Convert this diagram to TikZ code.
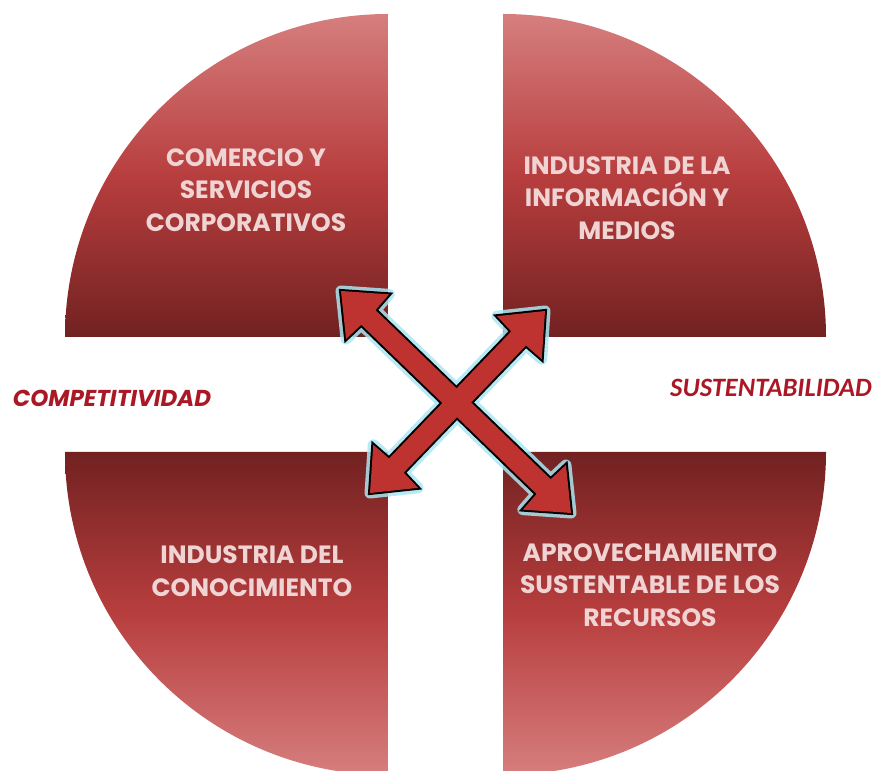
\documentclass[tikz,border=0pt]{standalone}
\usepackage{fontspec}
\usetikzlibrary{calc}
\newfontfamily\quadfont{Poppins}
\newfontfamily\calfont{Carlito}
\definecolor{qlight}{RGB}{214,126,126}
\definecolor{qmid}{RGB}{184,62,62}
\definecolor{qdark}{RGB}{114,33,33}
\definecolor{arrowred}{RGB}{190,50,48}
\definecolor{glowc}{RGB}{170,230,242}
\definecolor{labelred}{RGB}{170,24,38}
\definecolor{qtext}{RGB}{240,212,212}
\newcommand\dblarrowpath[2]{(#1) -- ($(#1)!48.3pt!40:(#2)$) -- ($(#1)!39.4pt!15:(#2)$) -- ($(#2)!39.4pt!-15:(#1)$) -- ($(#2)!48.3pt!-40:(#1)$) -- (#2) -- ($(#2)!48.3pt!40:(#1)$) -- ($(#2)!39.4pt!15:(#1)$) -- ($(#1)!39.4pt!-15:(#2)$) -- ($(#1)!48.3pt!-40:(#2)$) -- cycle}
\begin{document}
\begin{tikzpicture}[x=1pt,y=1pt,
  quadtop/.style={top color=qlight, bottom color=qdark, middle color=qmid},
  quadbot/.style={top color=qdark, bottom color=qlight, middle color=qmid},
  quadtext/.style={text=qtext, align=center, font=\quadfont\bfseries\fontsize{25}{32.5}\selectfont},
  glow/.style={draw=glowc, line width=11pt, line join=round, opacity=0.85},
  arrowline/.style={draw=black, line width=4pt, line join=miter},
  arrowfill/.style={fill=arrowred},
  sidelabel/.style={text=labelred}]
\useasboundingbox (0,0) rectangle (874,770);
\clip (0,0) rectangle (874,770);
% quadrants
\path[quadtop] (388,433) -- (65,433) arc[start angle=180, end angle=90, radius=323] -- cycle;
\path[quadtop] (503,433) -- (503,756) arc[start angle=90, end angle=0, radius=323] -- cycle;
\path[quadbot] (388,318) -- (65,318) arc[start angle=180, end angle=270, radius=323] -- cycle;
\path[quadbot] (503,318) -- (826,318) arc[start angle=0, end angle=-90, radius=323] -- cycle;
% arrow tips
\coordinate (nw) at (341,479);
\coordinate (se) at (571,257);
\coordinate (ne) at (545,459);
\coordinate (sw) at (370,277);
% arrows
\path[glow] \dblarrowpath{nw}{se};
\path[glow] \dblarrowpath{sw}{ne};
\path[arrowline] \dblarrowpath{nw}{se};
\path[arrowline] \dblarrowpath{sw}{ne};
\path[arrowfill] \dblarrowpath{nw}{se};
\path[arrowfill] \dblarrowpath{sw}{ne};
% texts
\node[quadtext] (tl) at (246,580) {COMERCIO Y\\SERVICIOS\\CORPORATIVOS};
\node[quadtext] (tr) at (627,572) {INDUSTRIA DE LA\\INFORMACIÓN Y\\MEDIOS};
\node[quadtext] (bl) at (252,199) {INDUSTRIA DEL\\CONOCIMIENTO};
\node[quadtext] (br) at (650,185) {APROVECHAMIENTO\\SUSTENTABLE DE LOS\\RECURSOS};
\node[sidelabel, font=\quadfont\bfseries\itshape\fontsize{23}{26}\selectfont] (comp) at (112,372) {COMPETITIVIDAD};
\node[sidelabel, font=\calfont\bfseries\itshape\fontsize{26.5}{30}\selectfont] (sust) at (771,382) {SUSTENTABILIDAD};
\end{tikzpicture}
\end{document}
